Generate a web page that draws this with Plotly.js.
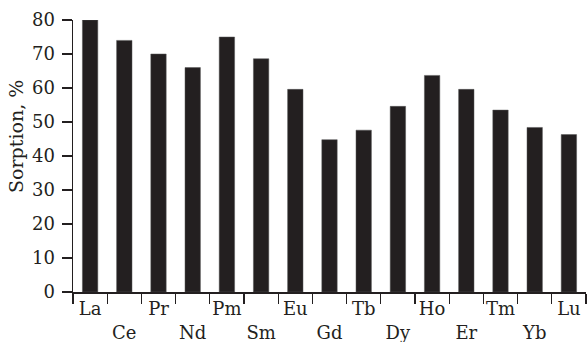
<!DOCTYPE html>
<html>
<head>
<meta charset="utf-8">
<script src="https://cdn.plot.ly/plotly-3.0.1.min.js"></script>
<style>html,body{margin:0;padding:0;background:#fff;}#chart{width:587px;height:342px;}</style>
</head>
<body>
<div id="chart"></div>
<script>
const elements = ["La","Ce","Pr","Nd","Pm","Sm","Eu","Gd","Tb","Dy","Ho","Er","Tm","Yb","Lu"];
const sorption = [80, 74, 70, 66, 75, 68.6, 59.6, 44.8, 47.6, 54.6, 63.7, 59.6, 53.5, 48.4, 46.3];
const yTicks = [0,10,20,30,40,50,60,70,80];
const yTitle = "Sorption, %";

const tickText = elements.map((e,i) => i % 2 === 0 ? e : "<br>" + e);
const font = {family: "DejaVu Serif, Liberation Serif, serif", size: 18, color: "#231f20"};

Plotly.newPlot("chart", [{
  type: "bar",
  x: elements,
  y: sorption,
  marker: {color: "#231f20", line: {color: "#555", width: 0.5}},
  hoverinfo: "none"
}], {
  width: 587, height: 342,
  margin: {l: 73, r: 1, t: 20, b: 50},
  paper_bgcolor: "#fff", plot_bgcolor: "#fff",
  bargap: 0.55,
  showlegend: false,
  font: font,
  xaxis: {
    type: "category",
    range: [-0.5, 14.5],
    tickmode: "array", tickvals: elements, ticktext: tickText,
    tickson: "boundaries", tickangle: 0,
    ticks: "outside", ticklen: 10, tickwidth: 1.3, tickcolor: "#231f20",
    showline: true, linecolor: "#231f20", linewidth: 1.5,
    showgrid: false, zeroline: false,
    tickfont: font
  },
  yaxis: {
    range: [0, 80],
    tickmode: "array", tickvals: yTicks,
    ticks: "outside", ticklen: 10, tickwidth: 1.3, tickcolor: "#231f20",
    ticklabelstandoff: 3,
    showline: true, linecolor: "#231f20", linewidth: 1.5,
    showgrid: false, zeroline: false,
    tickfont: font
  },
  annotations: [{
    text: yTitle, textangle: -90,
    xref: "paper", yref: "paper", x: 0, y: 0.57,
    xanchor: "center", yanchor: "middle",
    xshift: -57, showarrow: false,
    font: {family: font.family, size: 19, color: font.color}
  }]
}, {displayModeBar: false, staticPlot: true});
</script>
</body>
</html>
